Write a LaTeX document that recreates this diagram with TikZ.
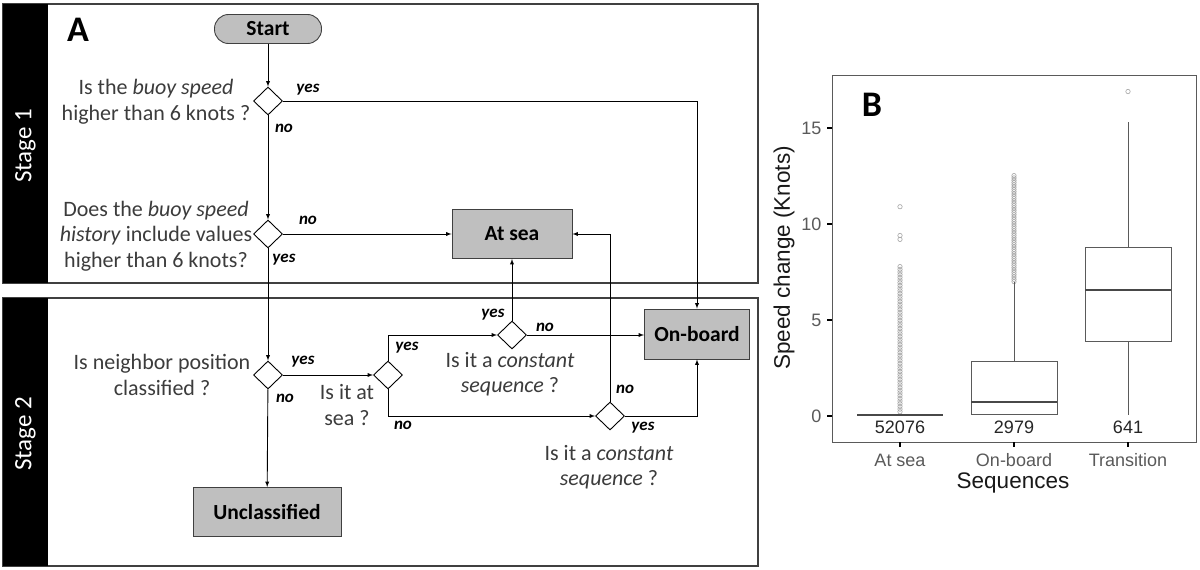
\documentclass[tikz,border=0pt]{standalone}
\usepackage{fontspec}
\setmainfont{Carlito}
\newfontfamily\plotfont{Liberation Sans}
\usetikzlibrary{shapes.geometric,arrows.meta}
\definecolor{boxgray}{RGB}{191,191,191}
\definecolor{framegray}{RGB}{64,64,64}
\definecolor{textgray}{RGB}{60,60,60}
\definecolor{axisgray}{RGB}{90,90,90}
\definecolor{outgray}{RGB}{165,165,165}
\tikzset{
  decision/.style={diamond, draw=black, fill=white, minimum width=29pt, minimum height=28pt, inner sep=0pt, line width=0.9pt},
  outcome/.style={rectangle, draw=framegray, fill=boxgray, line width=0.9pt, font=\fontsize{21.5}{24}\selectfont\bfseries},
  question/.style={align=center, text=textgray, font=\fontsize{22}{25.5}\selectfont},
  answer/.style={font=\fontsize{17}{20}\selectfont\bfseries\itshape},
  flow/.style={->, >=latex, line width=0.9pt},
  stagebar/.style={rotate=90, text=white, font=\fontsize{25}{28}\selectfont},
  panel/.style={font=\fontsize{36}{40}\selectfont\bfseries},
  ticklab/.style={text=axisgray, font=\plotfont\fontsize{18}{20}\selectfont},
  axtitle/.style={text=black!90, font=\plotfont\fontsize{22.5}{25}\selectfont},
  outlier/.style={outgray, line width=0.6pt},
}

\begin{document}
\begin{tikzpicture}[x=1pt, y=-1pt]
\useasboundingbox (0,0) rectangle (1200,570);
\fill[white] (0,0) rectangle (1200,570);

% stage frames
\draw[framegray, line width=1.3pt] (3,4) rectangle (758,283);
\fill[black] (3,4) rectangle (48,283);
\node[stagebar] (stage1) at (25.5,146) {Stage 1};
\draw[framegray, line width=1.3pt] (3,298) rectangle (758,566);
\fill[black] (3,298) rectangle (48,566);
\node[stagebar] (stage2) at (25.5,434) {Stage 2};
\node[panel] (labA) at (78,30) {A};

% boxes and decisions
\node[outcome, rounded corners=14pt, minimum width=107pt, minimum height=29pt] (start) at (268,29) {Start};
\node[decision] (d1) at (268,101) {};
\node[decision] (d2) at (268,234) {};
\node[decision] (nb) at (268,375) {};
\node[decision] (atq) at (388,375) {};
\node[decision] (cs1) at (512,335) {};
\node[decision] (cs2) at (610,416) {};
\node[outcome, minimum width=120pt, minimum height=49pt] (atsea) at (512,234) {At sea};
\node[outcome, minimum width=105pt, minimum height=50pt] (onboard) at (697,334) {On-board};
\node[outcome, minimum width=148pt, minimum height=49pt] (uncl) at (267,512) {Unclassified};

% questions
\node[question] (q1) at (156,102) {Is the \textit{buoy speed}\\higher than 6 knots ?};
\node[question] (q2) at (156,236) {Does the \textit{buoy speed}\\\textit{history} include values\\higher than 6 knots?};
\node[question] (q3) at (162,375) {Is neighbor position\\classified ?};
\node[question] (q4) at (347,405) {Is it at\\sea ?};
\node[question] (q5) at (510,374) {Is it a \textit{constant}\\\textit{sequence} ?};
\node[question] (q6) at (609,467) {Is it a \textit{constant}\\\textit{sequence} ?};

% answers
\node[answer] (a1y) at (308,90) {yes};
\node[answer] (a1n) at (284,128) {no};
\node[answer] (a2n) at (308,220) {no};
\node[answer] (a2y) at (284,260) {yes};
\node[answer] (a3y) at (303,362) {yes};
\node[answer] (a3n) at (285,398) {no};
\node[answer] (a4y) at (407,348) {yes};
\node[answer] (a4n) at (403,425) {no};
\node[answer] (a5y) at (493,315) {yes};
\node[answer] (a5n) at (545,327) {no};
\node[answer] (a6n) at (625,389) {no};
\node[answer] (a6y) at (643,428) {yes};

% connectors
\draw[flow] (start) -- (d1);
\draw[flow] (d1) -- (d2);
\draw[flow] (d1.east) -| (onboard.north);
\draw[flow] (d2.east) -- (atsea.west);
\draw[flow] (d2) -- (nb);
\draw[flow] (nb.east) -- (atq.west);
\draw[flow] (nb) -- (uncl);
\draw[flow] (atq.north) |- (cs1.west);
\draw[flow] (atq.south) |- (cs2.west);
\draw[flow] (cs1.north) -- (atsea.south);
\draw[flow] (cs1.east) -- (cs1.east -| onboard.west);
\draw[flow] (cs2.north) |- (atsea.east);
\draw[flow] (cs2.east) -| (onboard.south);

% boxplot
\begin{scope}[shift={(0,416)}, y=19.2pt]
\draw[axisgray, line width=0.8pt] (832,-1.354) rectangle (1196,17.76);
\node[panel] (labB) at (872,16.2) {B};
\foreach \v in {0,5,10,15} {
  \draw[black, line width=1.3pt] (827,\v) -- (832,\v);
  \node[ticklab, anchor=east] (ty\v) at (825,\v) {\v};
}
\foreach \x/\lab/\n in {900/At sea/52076, 1014/On-board/2979, 1128/Transition/641} {
  \draw[black, line width=1.3pt] (\x,-1.354) -- (\x,-1.62);
  \node[ticklab] (tx\n) at (\x,-2.3) {\lab};
  \node[ticklab, text=black!85] (n\n) at (\x,-0.6) {\n};
}
\node[axtitle] (xtitle) at (1013,-3.5) {Sequences};
\node[axtitle, rotate=90] (ytitle) at (784,8.23) {Speed change (Knots)};

% at sea
\foreach \v in {0.22,0.36,...,7.8} \draw[outlier] (900,\v) circle (2.2pt);
\foreach \v in {9.2,9.4,10.9} \draw[outlier] (900,\v) circle (2.2pt);
\draw[axisgray!80!black, line width=2pt] (857,0.07) -- (943,0.07);
% on-board
\foreach \v in {7.0,7.12,...,12.62} \draw[outlier] (1014,\v) circle (2.2pt);
\draw[axisgray, line width=1pt] (1014,2.85) -- (1014,7.0);
\draw[axisgray, line width=1pt] (971,0.1) rectangle (1057,2.85);
\draw[axisgray!80!black, line width=2pt] (971,0.75) -- (1057,0.75);
% transition
\draw[outlier] (1128,16.9) circle (2.2pt);
\draw[axisgray, line width=1pt] (1128,8.8) -- (1128,15.3);
\draw[axisgray, line width=1pt] (1128,3.9) -- (1128,0.05);
\draw[axisgray, line width=1pt] (1085,3.9) rectangle (1171,8.8);
\draw[axisgray!80!black, line width=2pt] (1085,6.55) -- (1171,6.55);
\end{scope}
\end{tikzpicture}
\end{document}
